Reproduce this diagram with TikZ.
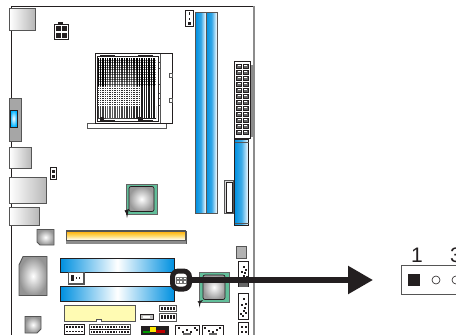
\documentclass[tikz,border=0pt]{standalone}
\usepackage{fontspec}
\setmainfont{Liberation Sans}
\usetikzlibrary{arrows.meta}
\definecolor{ink}{HTML}{231F20}
\definecolor{edge}{HTML}{555555}
\definecolor{slotblue}{HTML}{0090E0}
\definecolor{mint}{HTML}{62BE9A}
\tikzset{
  x=1pt,y=-1pt,
  port/.style={draw=edge,line width=.9pt,left color=white,right color=black!28},
  chip/.style={draw=edge,line width=.9pt,inner color=white,outer color=black!42},
  bluev/.style={draw=edge,line width=.7pt,left color=slotblue,right color=white,middle color=slotblue!80!white},
  blueh/.style={draw=ink,line width=.8pt,left color=slotblue,right color=slotblue,middle color=white},
  boardline/.style={draw=ink,line width=.8pt},
  callout/.style={draw=ink,rectangle,rounded corners=6pt,line width=5pt,fill=white,minimum width=17pt,minimum height=18pt,inner sep=0pt},
  pointer/.style={draw=ink,line width=5.5pt,-{Triangle[length=25pt,width=27pt]}},
  jumperbox/.style={draw=edge,line width=.7pt,fill=white,minimum width=70pt,minimum height=29pt,inner sep=0pt},
  digit/.style={font=\fontsize{21}{21}\selectfont,text=ink,inner sep=0pt}
}
\begin{document}
\begin{tikzpicture}
\useasboundingbox (0,0) rectangle (456,335);
% board outline
\draw[boardline] (11,335) -- (11,6) -- (254,6);
\draw[draw=black!45,line width=1.2pt] (254,6) -- (254,335);
% rear ports
\path[port] (9.5,8) rectangle (35,30);
\path[draw=edge,line width=.9pt,fill=black!35] (9.5,98) rectangle (21.5,141);
\path[draw=ink,line width=.7pt,inner color=white,outer color=cyan!70!blue] (10,110) rectangle (17,127);
\path[port] (9.5,147) rectangle (31.5,168);
\path[port] (9.5,177) rectangle (46.5,203.5);
\path[port] (9.5,207.5) rectangle (39,225);
% small headers top-left
\fill[ink] (58,21.5) rectangle (63,25);
\path[draw=ink,line width=.8pt,fill=white] (54.5,24) rectangle (68,39.5);
\fill[ink] (56,26) rectangle (60.5,31);\fill[ink] (62,26) rectangle (67,31);
\fill[ink] (56,33) rectangle (60.5,38);\fill[ink] (62,33) rectangle (67,38);
\path[draw=ink,line width=.8pt,fill=white] (50.5,167.5) rectangle (56,179.5);
\fill[ink] (51.5,170) rectangle (55,173);\fill[ink] (51.5,175) rectangle (55,178);
% CPU socket
\path[draw=edge,line width=.8pt,fill=white] (87.5,123) rectangle (166,128);
\path[draw=ink,line width=.8pt,fill=white] (95.5,53.5) rectangle (172,123);
\draw[edge,line width=.8pt] (160,53.5) -- (160,123);
\fill[white,draw=edge,line width=.7pt] (169,73.5) rectangle (172,77.5);
\fill[white,draw=edge,line width=.7pt] (169,98) rectangle (172,102);
\foreach \yy in {62,68,84,93,98,105}{\draw[edge,line width=.7pt] (157,\yy) -- (160,\yy);}
\path[draw=ink,line width=.6pt,fill=white] (97,56) rectangle (158,121);
% socket: pin field
\fill[white] (98,58) rectangle (156,118);
\foreach \yy in {86.2,88.2,...,104.5}{\fill[black!80] (98,\yy) rectangle (156,\yy+1.1);}
\shade[left color=black!75,right color=black!90] (98,106) rectangle (156,118);
\fill[black] (98,58) rectangle (106,86);
\fill[black] (137,58) rectangle (156,86);
\fill[black!90] (141,86) rectangle (156,118);
\shade[left color=black!60,right color=black!90] (106,106) rectangle (142,118);
\shade[top color=black,bottom color=black!55] (106,58) rectangle (137,86);
\foreach \xx in {99,101.4,...,136}{\draw[white,line width=.4pt] (\xx,58) -- (\xx,85);\draw[white,line width=.4pt] (\xx,106) -- (\xx,118);}
\foreach \xx in {138,140.4,...,156}{\draw[white,line width=.25pt] (\xx,58) -- (\xx,118);}
\foreach \xx in {99,101.4,...,137}{\draw[white,line width=.45pt] (\xx,85) -- (\xx,106);}
\foreach \yy in {60,62.4,...,84}{\draw[black,line width=.35pt,opacity=.5] (98,\yy) -- (156,\yy);}
\fill[ink] (100,117) rectangle (104,121);\fill[ink] (138,117) rectangle (143,121);
\draw[ink,line width=1pt] (100,55) -- (115,55);\draw[ink,line width=1pt] (138,55) -- (153,55);
\draw[ink,line width=1pt] (100,120.5) -- (115,120.5);\draw[ink,line width=1pt] (138,120.5) -- (153,120.5);
% fan header top
\path[draw=ink,line width=.9pt,fill=white] (185.5,10) rectangle (193.5,26);
\fill[ink] (188.5,12) rectangle (190,14.5);\fill[ink] (188.5,18) rectangle (190,20);\fill[ink] (187.5,22) rectangle (191,25);
% memory slots
\path[bluev] (195.5,12.5) rectangle (206,213);
\path[bluev] (206,12.5) rectangle (217,213);
% ATX
\fill[black!45] (250,65) rectangle (253,137);
\path[draw=ink,line width=.9pt,fill=white] (234.5,61) rectangle (250,138);
\foreach \yy in {64,70,...,130}{
  \path[draw=ink,line width=.5pt,fill=black!60] (236.5,\yy) rectangle (241.5,\yy+4.6);
  \path[draw=ink,line width=.5pt,fill=black!60] (243,\yy) rectangle (248,\yy+4.6);
  \fill[white] (237.5,\yy+.8) rectangle (240.5,\yy+2.2);
  \fill[white] (244,\yy+.8) rectangle (247,\yy+2.2);}
% vertical PCIe
\path[draw=ink,line width=.8pt,left color=slotblue,right color=white,middle color=slotblue!75!white] (234.5,139.5) rectangle (248.5,225);
\draw[edge,line width=.7pt] (234.5,142.5) -- (248.5,142.5);\draw[edge,line width=.7pt] (234.5,223) -- (248.5,223);
% small slot
\path[draw=edge,line width=1.2pt,fill=black!15] (224.5,180.5) rectangle (233.5,213.5);
\path[draw=ink,line width=.6pt,fill=white] (226.5,182.5) rectangle (232.5,212);
% north chip
\path[draw=ink!70,line width=.8pt,fill=mint] (126,184) rectangle (157,214);
\path[draw=ink,line width=.7pt,rounded corners=2pt,inner color=white,outer color=black!40] (129,186.5) rectangle (154,211.5);
\fill[ink] (124.5,210.5) -- (129,209) -- (128,213) -- (127,218) -- (126.2,213.5) -- cycle;
% chips left
\path[chip] (37,229.5) -- (54,229.5) -- (54,245) -- (40,245) -- (37,242) -- (37,232.5) -- cycle;
\path[chip] (23,256.5) -- (47,256.5) -- (47,295.5) -- (19,295.5) -- (19,265) -- cycle;
\path[chip] (25,316.5) -- (41,316.5) -- (41,329) -- (37,333) -- (25,333) -- cycle;
% PCI yellow
\fill[black!45] (66,239) rectangle (186,243.5);
\shade[top color=orange!65!yellow,bottom color=white,middle color=yellow!50!orange!60,draw=edge,line width=.6pt] (66,231) rectangle (185.5,240);
\draw[edge,line width=.9pt] (66,230.8) -- (186,230.8);
\draw[edge,line width=.9pt] (186,231) -- (186,243.5);
% PCIe x
\path[blueh] (60.5,258.5) rectangle (174,272.5);
\path[blueh] (60.5,286) rectangle (174,301.5);
% connector between slots
\path[draw=edge,line width=1.2pt,fill=white] (68.5,272.5) rectangle (84,284);
\fill[ink] (71,275) rectangle (73.5,281);\fill[ink] (76,277) rectangle (77,279);\fill[ink] (79,277) rectangle (80,279);
% pale slot
\path[draw=edge,line width=.8pt,fill=yellow!30] (64,305) -- (135,305) -- (135,321) -- (101.5,321) -- (101.5,319) -- (96,319) -- (96,321) -- (64,321) -- cycle;
% bottom headers
\path[draw=ink,line width=.6pt,fill=white] (64.5,324.5) rectangle (84,334.5);
\foreach \xx in {66,69,72,75,78,81}{\fill[ink] (\xx,326) rectangle +(1.8,1.8);\fill[ink] (\xx,330.5) rectangle +(1.8,1.8);}
\path[draw=edge,line width=.5pt,fill=white] (89.5,324.5) rectangle (130,334.5);
\foreach \xx in {90.5,93.3,...,128}{\fill[ink] (\xx,325.5) rectangle +(1.6,2.4);\fill[ink] (\xx,330.5) rectangle +(1.6,2.6);}
\draw[ink,line width=.5pt] (89.5,329.2) -- (130,329.2);
\path[draw=ink,line width=1pt,fill=black!25] (140,314) rectangle (153,319);
\fill[white] (143,315.5) rectangle (150,317.5);
% audio
\fill[ink] (140.5,326) rectangle (168.5,335);
\fill[yellow!90!orange] (150,327) rectangle (156,332);
\fill[green!60!black] (143,331) rectangle (150,333);
\fill[red!75!black] (156,330) rectangle (165,333);
% small twin headers
\path[draw=edge,line width=.9pt,fill=white] (159.5,305.5) rectangle (176,311.5);
\path[draw=edge,line width=.9pt,fill=white] (159.5,313.5) rectangle (176,321);
\foreach \xx in {161,164,...,174}{\fill[ink] (\xx,307) rectangle +(1.6,2.8);\fill[ink] (\xx,315) rectangle +(1.6,4.4);}
% south-bottom headers
\path[draw=ink,line width=.7pt,fill=white] (175.5,325.5) rectangle (199,335);
\path[draw=ink,line width=.7pt,fill=white] (202,325.5) rectangle (223,335);
\foreach \xx/\yy in {178/327,182/331,186/329,190/331,194/327,196/329}{\fill[ink] (\xx,\yy) rectangle +(2,2);}
\foreach \xx/\yy in {204/327,208/330,212/331,216/329,219/327}{\fill[ink] (\xx,\yy) rectangle +(2,2);}
\fill[black!60] (183,332.5) rectangle (191,335);\fill[black!60] (209,332.5) rectangle (217,335);
% south chip
\path[draw=black!60,line width=.8pt,fill=mint] (199,272.5) rectangle (229,302);
\path[draw=ink,line width=.7pt,rounded corners=2pt,inner color=white,outer color=black!40] (203,275) rectangle (225,299.5);
\fill[ink] (197.5,301.5) -- (203,300) -- (200.5,303) -- (199.5,307.5) -- (198.8,303) -- cycle;
% right edge parts
\path[draw=edge,line width=.8pt,fill=black!30] (236.5,246.5) rectangle (246.5,258);
\path[draw=ink,line width=.7pt,fill=white] (238.5,261.5) rectangle (248,286.5);
\path[draw=ink,line width=.7pt,fill=white] (238.5,293.5) rectangle (248,319.5);
\path[draw=ink,line width=.7pt,fill=white] (238.5,322.5) rectangle (248,335);
\fill[black!60] (239,283) rectangle (247.5,286.5);
\foreach \xx/\yy in {243/266,245/269,241/271,244/272,243/275,246/276,242/278,245/279,
                     243/298,245/303,241/304,244/307,243/310,240/313,242/315,245/312,
                     241/326,245/326,241/331,245/331}{\fill[ink] (\xx,\yy) rectangle +(1.6,1.9);}
% jumper callout
\node[jumperbox,anchor=north west] (jumper) at (401,264.5) {};
\node[callout] (header) at (181,280) {};
\coordinate (arrowend) at (373,280);
\draw[pointer] (header.east) -- (arrowend);
\fill[black!55] (175.5,276.5) rectangle (186.5,283.5);
\foreach \xx in {176.5,180,183.5}{\fill[white] (\xx,277.5) rectangle +(2,1.6);\fill[white] (\xx,280.9) rectangle +(2,1.6);}
\node[digit,anchor=south] (one) at (417,262.5) {1};
\node[digit,anchor=south] (three) at (456,262.5) {3};
\node[fill=ink,minimum width=12pt,minimum height=12pt,inner sep=0pt] (pinone) at (414,280) {};
\node[draw=ink,circle,line width=.6pt,minimum size=8pt,inner sep=0pt] (pintwo) at (436,280) {};
\node[draw=ink,circle,line width=.6pt,minimum size=8pt,inner sep=0pt] (pinthree) at (456,280) {};
\end{tikzpicture}
\end{document}
